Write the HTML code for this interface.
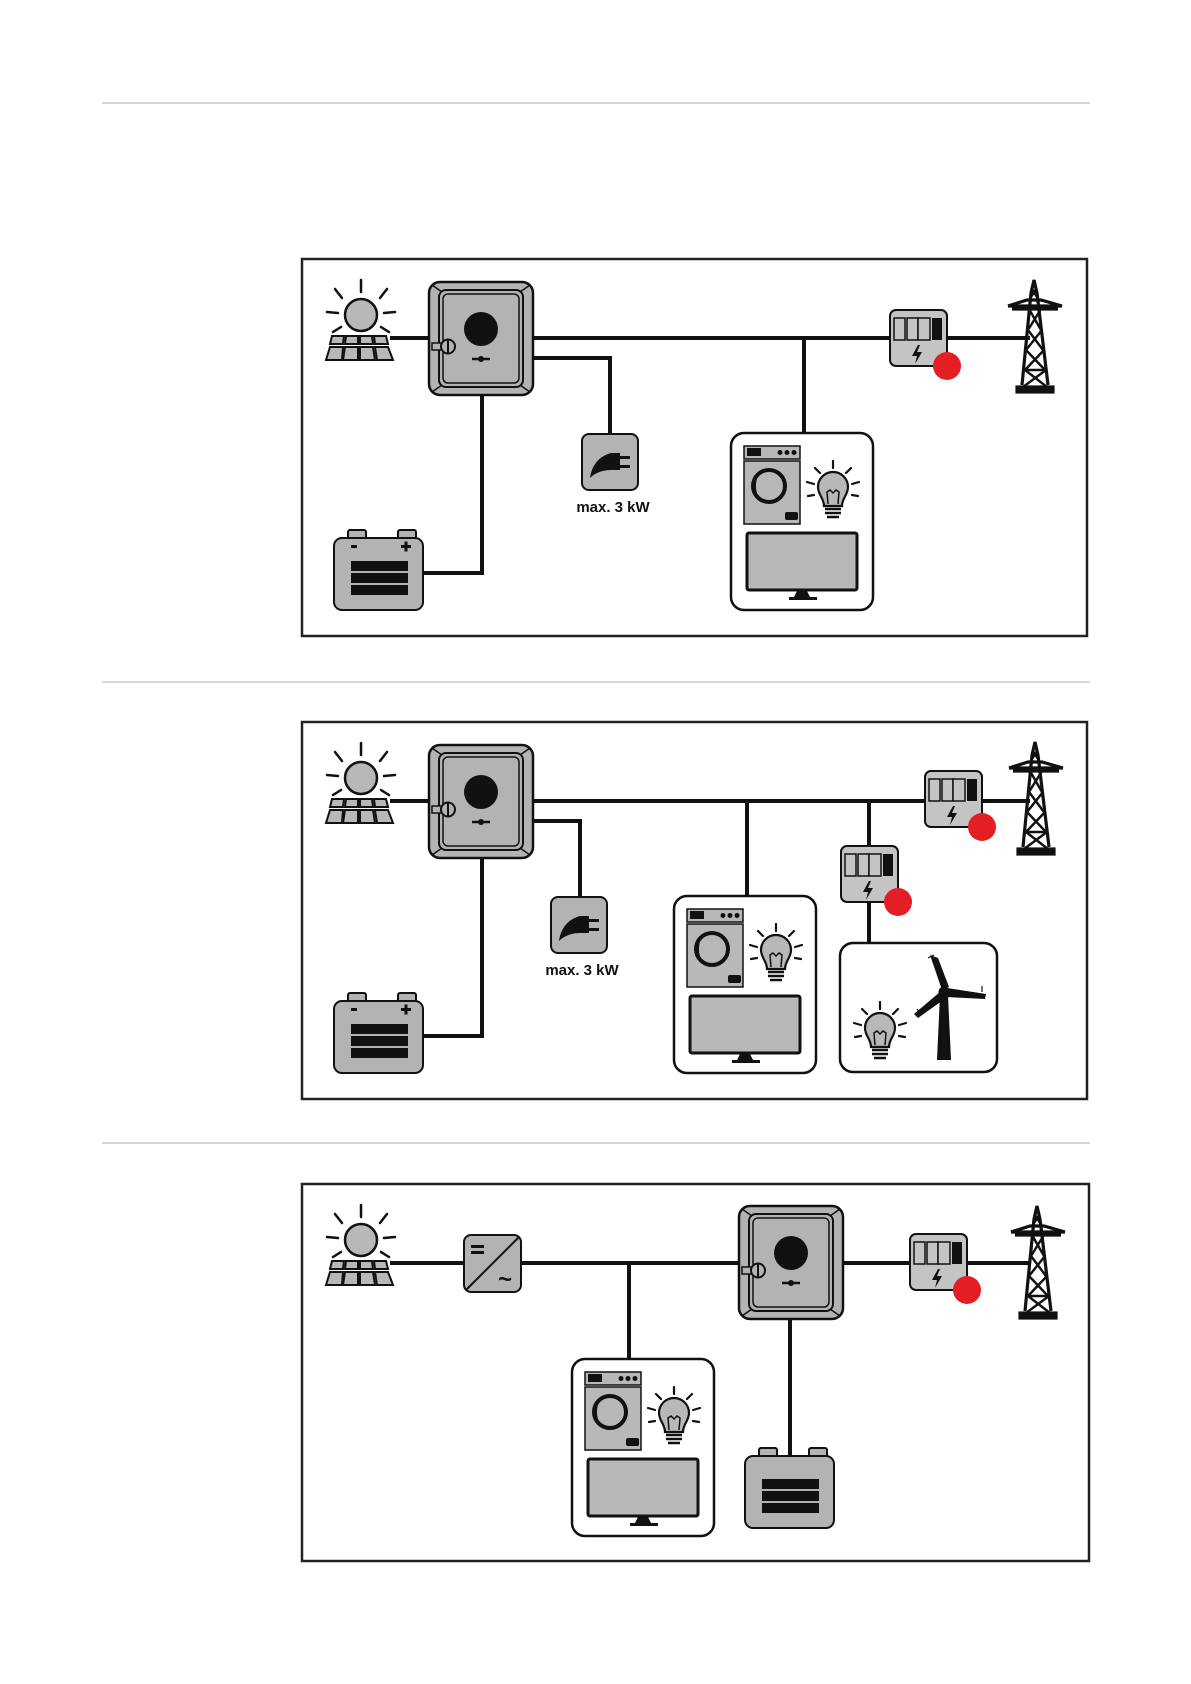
<!DOCTYPE html>
<html><head><meta charset="utf-8"><style>
html,body{margin:0;padding:0;background:#fff;}
svg{display:block;}
text{font-family:"Liberation Sans",sans-serif;font-weight:bold;}
</style></head><body>
<svg width="1191" height="1684" viewBox="0 0 1191 1684" xmlns="http://www.w3.org/2000/svg">
<defs>
<g id="sun">
  <circle cx="0" cy="0" r="16" fill="#b8b8b8" stroke="#111" stroke-width="2.5"/>
  <g stroke="#111" stroke-width="2.5" stroke-linecap="round">
    <line x1="0" y1="-23" x2="0" y2="-35"/>
    <line x1="-19" y1="-17" x2="-26" y2="-26"/>
    <line x1="19" y1="-17" x2="26" y2="-26"/>
    <line x1="-23" y1="-2" x2="-34" y2="-3"/>
    <line x1="23" y1="-2" x2="34" y2="-3"/>
    <line x1="-20" y1="12" x2="-28" y2="17"/>
    <line x1="20" y1="12" x2="28" y2="17"/>
  </g>
  <g fill="#b8b8b8" stroke="#111" stroke-width="2">
    <polygon points="-29,21 -17,21 -18,29 -31,29"/>
    <polygon points="-15,21 -3,21 -3,29 -16,29"/>
    <polygon points="-1,21 11,21 12,29 -1,29"/>
    <polygon points="13,21 25,21 27,29 14,29"/>
    <polygon points="-31,32 -18,32 -19,45 -35,45"/>
    <polygon points="-16,32 -3,32 -3,45 -18,45"/>
    <polygon points="-1,32 12,32 14,45 -1,45"/>
    <polygon points="14,32 27,32 32,45 16,45"/>
  </g>
</g>
<g id="inv">
  <rect x="0" y="0" width="104" height="113" rx="11" fill="#b3b3b3" stroke="#111" stroke-width="2.5"/>
  <g stroke="#111" stroke-width="1.5">
    <line x1="3" y1="3" x2="13" y2="10"/><line x1="101" y1="3" x2="91" y2="10"/>
    <line x1="3" y1="110" x2="13" y2="103"/><line x1="101" y1="110" x2="91" y2="103"/>
  </g>
  <rect x="10" y="8" width="84" height="97" rx="7" fill="#b3b3b3" stroke="#111" stroke-width="2"/>
  <rect x="14" y="12" width="76" height="89" rx="5" fill="none" stroke="#111" stroke-width="1.5"/>
  <circle cx="52" cy="47" r="17" fill="#111"/>
  <rect x="3" y="61" width="10" height="7" fill="#b3b3b3" stroke="#111" stroke-width="1.5"/>
  <circle cx="19" cy="64.5" r="7" fill="#b3b3b3" stroke="#111" stroke-width="2"/>
  <line x1="19" y1="58" x2="19" y2="71" stroke="#111" stroke-width="2"/>
  <line x1="43" y1="77" x2="61" y2="77" stroke="#111" stroke-width="2.5"/>
  <circle cx="52" cy="77" r="3" fill="#111"/>
</g>
<g id="meter">
  <rect x="0" y="0" width="57" height="56" rx="6" fill="#c4c4c4" stroke="#111" stroke-width="2"/>
  <g fill="#c4c4c4" stroke="#111" stroke-width="1.5">
    <rect x="4" y="8" width="11" height="22"/><rect x="17" y="8" width="11" height="22"/><rect x="28" y="8" width="12" height="22"/>
  </g>
  <rect x="42" y="8" width="10" height="22" fill="#111"/>
  <polygon points="28,35 22,46 27,46 25,54 32,42 27,42 30,35" fill="#111"/>
  <circle cx="57" cy="56" r="14" fill="#e31e24"/>
</g>
<g id="tower" fill="none" stroke="#111" stroke-width="3.2">
  <polyline points="22,110 31,18 34,5 37,18 48,110"/>
  <line x1="8" y1="31" x2="62" y2="31"/>
  <polyline points="8,31 27,25 41,25 62,31"/>
  <line x1="12" y1="34" x2="58" y2="34"/>
  <g stroke-width="2.4">
  <line x1="29" y1="34" x2="41" y2="55"/><line x1="41" y1="34" x2="28" y2="55"/>
  <line x1="28" y1="55" x2="43" y2="75"/><line x1="42" y1="55" x2="26" y2="75"/>
  <line x1="26" y1="75" x2="45" y2="95"/><line x1="44" y1="75" x2="25" y2="95"/>
  <line x1="25" y1="95" x2="47" y2="95"/>
  <line x1="25" y1="95" x2="47" y2="112"/><line x1="46" y1="95" x2="23" y2="112"/>
  <line x1="32" y1="14" x2="37" y2="22"/><line x1="36" y1="14" x2="31" y2="22"/>
  </g>
  <rect x="17" y="112" width="36" height="5" fill="#111"/>
</g>
<g id="bulb">
  <g stroke="#111" stroke-width="2.2" stroke-linecap="round">
    <line x1="0" y1="-19" x2="0" y2="-26"/><line x1="-13" y1="-14" x2="-18" y2="-19"/><line x1="13" y1="-14" x2="18" y2="-19"/>
    <line x1="-19" y1="-3" x2="-26" y2="-5"/><line x1="19" y1="-3" x2="26" y2="-5"/>
    <line x1="-19" y1="8" x2="-25" y2="9"/><line x1="19" y1="8" x2="25" y2="9"/>
  </g>
  <path d="M-9,19 C-9,11 -15,8 -15,0 A15,15 0 1 1 15,0 C15,8 9,11 9,19 Z" fill="#b8b8b8" stroke="#111" stroke-width="2.2"/>
  <polyline points="-5,17 -6,5 -3,3 0,6 3,3 6,5 5,17" fill="none" stroke="#111" stroke-width="1.5"/>
  <g stroke="#111" stroke-width="2.5"><line x1="-8" y1="22" x2="8" y2="22"/><line x1="-8" y1="26" x2="8" y2="26"/><line x1="-6" y1="30" x2="6" y2="30"/></g>
</g>
<g id="load">
  <rect x="0" y="0" width="142" height="177" rx="13" fill="#fff" stroke="#111" stroke-width="2.5"/>
  <rect x="13" y="13" width="56" height="13" fill="#b8b8b8" stroke="#111" stroke-width="1.5"/>
  <rect x="16" y="15" width="14" height="8" fill="#111"/>
  <circle cx="49" cy="19.5" r="2.5" fill="#111"/><circle cx="56" cy="19.5" r="2.5" fill="#111"/><circle cx="63" cy="19.5" r="2.5" fill="#111"/>
  <rect x="13" y="28" width="56" height="63" fill="#b8b8b8" stroke="#111" stroke-width="1.5"/>
  <circle cx="38" cy="53" r="16" fill="#b8b8b8" stroke="#111" stroke-width="4"/>
  <path d="M28,41 A16,16 0 0 0 28,65 A25,25 0 0 1 28,41 Z" fill="#111"/>
  <rect x="54" y="79" width="13" height="8" rx="2" fill="#111"/>
  <use href="#bulb" x="102" y="54"/>
  <rect x="16" y="100" width="110" height="57" rx="2" fill="#b8b8b8" stroke="#111" stroke-width="3"/>
  <polygon points="66,158 76,158 79,164 63,164" fill="#111"/>
  <rect x="58" y="164" width="28" height="3" fill="#111"/>
</g>
<g id="plug">
  <rect x="0" y="0" width="56" height="56" rx="7" fill="#b3b3b3" stroke="#111" stroke-width="2"/>
  <path d="M8,44 C10,30 18,22 29,19 L38,19 L38,36 L29,36 C22,36 14,38 8,44 Z" fill="#111"/>
  <rect x="38" y="22" width="10" height="3" fill="#111"/><rect x="38" y="31" width="10" height="3" fill="#111"/>
</g>
<g id="batbody">
  <rect x="14" y="0" width="18" height="10" rx="2" fill="#b3b3b3" stroke="#111" stroke-width="2"/>
  <rect x="64" y="0" width="18" height="10" rx="2" fill="#b3b3b3" stroke="#111" stroke-width="2"/>
  <rect x="0" y="8" width="89" height="72" rx="8" fill="#b3b3b3" stroke="#111" stroke-width="2"/>
  <rect x="17" y="31" width="57" height="10" fill="#111"/>
  <rect x="17" y="43" width="57" height="10" fill="#111"/>
  <rect x="17" y="55" width="57" height="10" fill="#111"/>
</g>
<g id="bat">
  <use href="#batbody"/>
  <rect x="17" y="15" width="6" height="3" fill="#111"/>
  <rect x="67" y="15" width="10" height="3" fill="#111"/><rect x="70.5" y="11.5" width="3" height="10" fill="#111"/>
</g>
</defs>

<g stroke="#c8c8c8" stroke-width="1.5">
<line x1="102" y1="103" x2="1090" y2="103"/>
<line x1="102" y1="682" x2="1090" y2="682"/>
<line x1="102" y1="1143" x2="1090" y2="1143"/>
</g>

<!-- Frame 1 -->
<rect x="302" y="259" width="785" height="377" fill="none" stroke="#222" stroke-width="2.5"/>
<g stroke="#111" stroke-width="4" fill="none">
  <line x1="390" y1="338" x2="430" y2="338"/>
  <line x1="533" y1="338" x2="1030" y2="338"/>
  <polyline points="533,358 610,358 610,434"/>
  <line x1="804" y1="338" x2="804" y2="434"/>
  <polyline points="482,395 482,573 423,573"/>
</g>
<use href="#sun" x="361" y="315"/>
<use href="#inv" x="429" y="282"/>
<use href="#plug" x="582" y="434"/>
<text x="613" y="512" font-size="15" text-anchor="middle" fill="#111">max. 3 kW</text>
<use href="#bat" x="334" y="530"/>
<use href="#load" x="731" y="433"/>
<use href="#meter" x="890" y="310"/>
<use href="#tower" x="1000" y="275"/>

<!-- Frame 2 -->
<rect x="302" y="722" width="785" height="377" fill="none" stroke="#222" stroke-width="2.5"/>
<g stroke="#111" stroke-width="4" fill="none">
  <line x1="390" y1="801" x2="430" y2="801"/>
  <line x1="533" y1="801" x2="1030" y2="801"/>
  <polyline points="533,821 580,821 580,897"/>
  <line x1="747" y1="801" x2="747" y2="897"/>
  <line x1="869" y1="801" x2="869" y2="943"/>
  <polyline points="482,858 482,1036 423,1036"/>
</g>
<use href="#sun" x="361" y="778"/>
<use href="#inv" x="429" y="745"/>
<use href="#plug" x="551" y="897"/>
<text x="582" y="975" font-size="15" text-anchor="middle" fill="#111">max. 3 kW</text>
<use href="#bat" x="334" y="993"/>
<use href="#load" x="674" y="896"/>
<use href="#meter" x="925" y="771"/>
<use href="#meter" x="841" y="846"/>
<rect x="840" y="943" width="157" height="129" rx="13" fill="#fff" stroke="#111" stroke-width="2.5"/>
<use href="#bulb" x="880" y="1028"/>
<g>
  <polygon points="940,995 948,995 951,1060 937,1060" fill="#111"/>
  <polygon points="942,990 930,955 938,958 949,987" fill="#111"/>
  <polygon points="947,988 986,994 985,999 946,997" fill="#111"/>
  <polygon points="940,992 914,1014 918,1018 946,998" fill="#111"/>
  <circle cx="944" cy="992" r="5.5" fill="#111"/>
  <g stroke="#111" stroke-width="1.2"><line x1="928" y1="958" x2="934" y2="955"/><line x1="982" y1="986" x2="982" y2="992"/><line x1="917" y1="1009" x2="921" y2="1014"/></g>
</g>
<use href="#tower" x="1001" y="737"/>

<!-- Frame 3 -->
<rect x="302" y="1184" width="787" height="377" fill="none" stroke="#222" stroke-width="2.5"/>
<g stroke="#111" stroke-width="4" fill="none">
  <line x1="390" y1="1263" x2="740" y2="1263"/>
  <line x1="842" y1="1263" x2="1030" y2="1263"/>
  <line x1="629" y1="1263" x2="629" y2="1359"/>
  <line x1="790" y1="1320" x2="790" y2="1456"/>
</g>
<use href="#sun" x="361" y="1240"/>
<rect x="464" y="1235" width="57" height="57" rx="7" fill="#b3b3b3" stroke="#111" stroke-width="2"/>
<line x1="466" y1="1290" x2="519" y2="1237" stroke="#111" stroke-width="2"/>
<rect x="471" y="1245" width="13" height="3" fill="#111"/><rect x="471" y="1251" width="13" height="3" fill="#111"/>
<text x="505" y="1287" font-size="24" text-anchor="middle" fill="#111">~</text>
<use href="#inv" x="739" y="1206"/>
<use href="#load" x="572" y="1359"/>
<use href="#batbody" x="745" y="1448"/>
<use href="#meter" x="910" y="1234"/>
<use href="#tower" x="1003" y="1201"/>
</svg>
</body></html>
